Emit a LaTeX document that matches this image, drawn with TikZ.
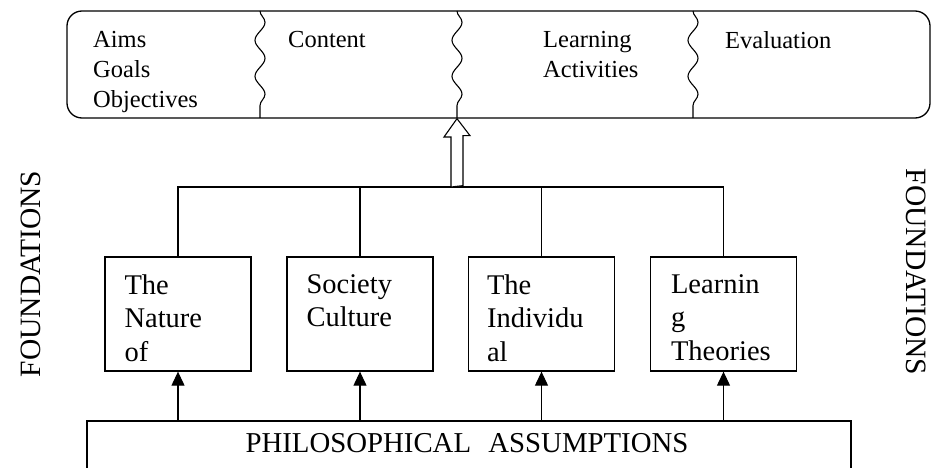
\documentclass[tikz,border=0pt]{standalone}
\usepackage{fontspec}
\setmainfont{Liberation Serif}
\usetikzlibrary{arrows.meta,positioning,calc,decorations.pathmorphing}

\tikzset{
  plan/.style={draw,line width=1.3pt,rounded corners=15pt,minimum width=863pt,minimum height=107pt,inner sep=0pt},
  plantext/.style={anchor=north west,align=left,inner sep=0pt,font=\fontsize{24.5}{30}\selectfont},
  squiggle/.style={line width=1.1pt,decorate,decoration={snake,amplitude=5pt,segment length=36pt}},
  factor/.style={draw,line width=1.3pt,minimum width=146pt,minimum height=114pt,inner sep=0pt},
  factortext/.style={anchor=north west,align=left,inner sep=0pt,font=\fontsize{28.5}{33.5}\selectfont},
  base/.style={draw,line width=1.3pt,minimum width=764pt,minimum height=90pt,inner sep=0pt},
  side/.style={inner sep=0pt,font=\fontsize{29.5}{34}\selectfont},
  feed/.style={line width=1.1pt,-{Triangle[length=14pt,width=13pt]}},
}

\begin{document}
\begin{tikzpicture}[x=1pt,y=-1pt]
  \useasboundingbox (0,0) rectangle (931,468);
  \clip (0,0) rectangle (931,468);

  % curriculum elements
  \node[plan] (plan) at (498.5,64.5) {};
  \node[plantext] (aims) at (93,31) {Aims\\Goals\\Objectives};
  \node[plantext] (cont) at (288,31) {Content};
  \node[plantext] (act) at (543,31) {Learning\\Activities};
  \node[plantext] (eval) at (725,31) {Evaluation};
  \draw[squiggle] (260,11) -- (260,118);
  \draw[squiggle] (457,11) -- (457,118);
  \draw[squiggle] (693,11) -- (693,118);

  % foundations
  \node[factor] (nat) at (178,314) {};
  \node[factor] (soc) at (360,314) {};
  \node[factor] (ind) at (541.5,314) {};
  \node[factor] (lrn) at (723.5,314) {};
  \node[factortext] (nattext) at ($(nat.north west)+(20,18)$) {The\\Nature\\of};
  \node[factortext] (soctext) at ($(soc.north west)+(20,18)$) {Society\\Culture};
  \node[factortext] (indtext) at ($(ind.north west)+(19,18)$) {The\\Individu\\al};
  \node[factortext] (lrntext) at ($(lrn.north west)+(21,18)$) {Learnin\\g\\Theories};

  % bus up to the plan
  \coordinate (bus) at (457,187);
  \draw[line width=1.1pt] (nat.north) -- (nat.north |- bus) -- (lrn.north |- bus) -- (lrn.north);
  \draw[line width=1.1pt] (soc.north) -- (soc.north |- bus);
  \draw[line width=1.1pt] (ind.north) -- (ind.north |- bus);
  \draw[line width=1.1pt,fill=white] (bus) ++(-6,0) -- ++(0,-50) -- ++(-7,0)
    -- (plan.south -| bus) -- ++(13,17) -- ++(-7,0) -- ++(0,50) -- cycle;

  % philosophical assumptions
  \node[base] (phil) at (469,466) {};
  \node[inner sep=0pt,font=\fontsize{28.8}{34}\selectfont] (philtext) at (467,443)
    {PHILOSOPHICAL\hspace{0.6em}ASSUMPTIONS};
  \foreach \f in {nat,soc,ind,lrn}
    \draw[feed] (\f.south |- phil.north) -- (\f.south);

  \node[side,rotate=90] (leftf) at (31,274) {FOUNDATIONS};
  \node[side,rotate=-90] (rightf) at (916,272) {FOUNDATIONS};
\end{tikzpicture}
\end{document}
